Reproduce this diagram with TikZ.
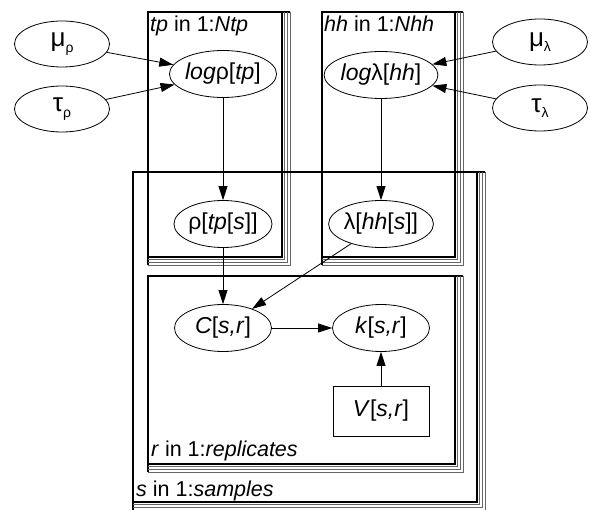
\documentclass[tikz,border=0pt]{standalone}
\usepackage{fontspec}
\setmainfont{Liberation Sans}
\usetikzlibrary{arrows.meta,shapes.geometric}
\newcommand\myplate[4]{%
  \draw[platemain] (#1,#2) rectangle (#3,#4);
  \draw[platemain] (#3,#2) -- (#3+8,#2);
  \draw[platemain] (#1,#4) -- (#1,#4+8);
  \foreach \k in {2.7,5.4,8}{\draw[plateshadow] (#3+\k,#2) -- (#3+\k,#4+\k) -- (#1,#4+\k);}
}
\begin{document}
\begin{tikzpicture}[x={(1pt,0pt)},y={(0pt,-1pt)},
  every node/.style={font=\fontsize{23}{27}\selectfont},
  var/.style={draw, ellipse, fill=white, line width=0.8pt, minimum width=97pt, minimum height=47pt, inner sep=0pt},
  hyper/.style={var, minimum width=95pt, minimum height=46pt, font=\fontsize{26}{30}\selectfont},
  cons/.style={draw, rectangle, fill=white, line width=0.8pt, minimum width=96pt, minimum height=50pt, inner sep=0pt},
  platemain/.style={line width=1.3pt, black},
  plateshadow/.style={line width=0.7pt, black!60},
  lab/.style={anchor=base west, inner sep=0pt, font=\fontsize{21.5}{25}\selectfont},
  arr/.style={-{Triangle[length=14pt,width=9pt]}, line width=0.8pt}]
\useasboundingbox (0,0) rectangle (591,510);

\myplate{148}{12}{282}{257}
\myplate{322}{12}{455}{257}
\myplate{133}{172}{477}{502}
\myplate{148}{276}{455}{464}

\node[lab] (tplab) at (150,32) {\textit{tp} in 1:\textit{Ntp}};
\node[lab] (hhlab) at (324,32) {\textit{hh} in 1:\textit{Nhh}};
\node[lab] (rlab) at (151,456) {\textit{r} in 1:\textit{replicates}};
\node[lab] (slab) at (136,496) {\textit{s} in 1:\textit{samples}};

\node[hyper] (mur) at (62,44) {μ\raisebox{-6pt}{\fontsize{14}{16}\selectfont ρ}};
\node[hyper] (taur) at (62,109) {τ\raisebox{-6pt}{\fontsize{14}{16}\selectfont ρ}};
\node[hyper] (mul) at (540,42) {μ\raisebox{-5pt}{\fontsize{14}{16}\selectfont λ}};
\node[hyper] (taul) at (540,108) {τ\raisebox{-5pt}{\fontsize{14}{16}\selectfont λ}};

\node[var] (logr) at (223,74) {\textit{log}ρ[\textit{tp}]};
\node[var] (logl) at (381,75) {\textit{log}λ[\textit{hh}]};
\node[var] (rho) at (223,224) {ρ[\textit{tp}[\textit{s}]]};
\node[var] (lam) at (381,224) {λ[\textit{hh}[\textit{s}]]};
\node[var] (C) at (223,328) {\textit{C}[\textit{s,r}]};
\node[var] (k) at (381,328) {\textit{k}[\textit{s,r}]};
\node[cons] (V) at (381,411) {\textit{V}[\textit{s,r}]};

\draw[arr] (mur) -- (logr);
\draw[arr] (taur) -- (logr);
\draw[arr] (mul) -- (logl);
\draw[arr] (taul) -- (logl);
\draw[arr] (logr) -- (rho);
\draw[arr] (logl) -- (lam);
\draw[arr] (rho) -- (C);
\draw[arr] (lam) -- (C);
\draw[arr] (C) -- (k);
\draw[arr] (V) -- (k);
\end{tikzpicture}
\end{document}
